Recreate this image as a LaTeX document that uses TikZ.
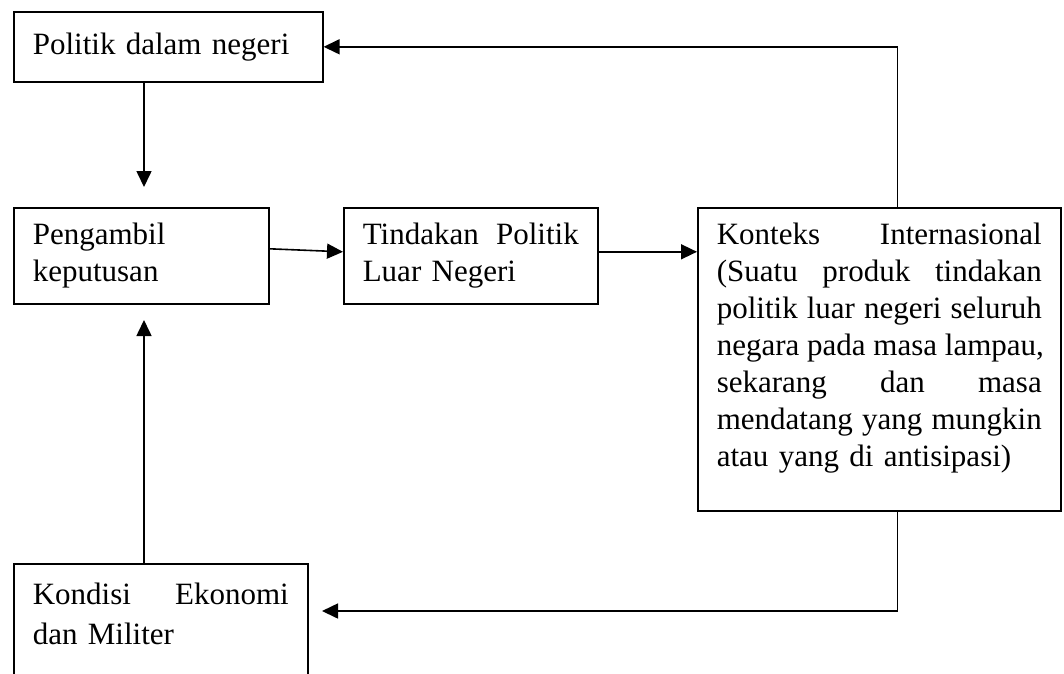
\documentclass[tikz,border=0pt]{standalone}
\usepackage{fontspec}
\setmainfont{Liberation Serif}
\usetikzlibrary{arrows.meta}
\newcommand{\jline}[2]{\leavevmode\hbox to #1{\spaceskip=0.25em plus 10em\relax #2}}

\begin{document}
\begin{tikzpicture}[
			x=1pt, y=-1pt,
			line width=1.6pt,
			>={Triangle[length=16pt, width=15pt]},
			main/.style = {draw, rectangle, anchor=north west, inner xsep=19pt, inner ysep=0pt, align=left, font=\fontsize{31}{37}\selectfont}
		]
		\useasboundingbox (0,0) rectangle (1064,673);
		\node[main, text width=271pt, minimum height=70pt] (1) at (13,11) {Politik dalam negeri};
		\node[main, text width=217pt, minimum height=96pt] (2) at (13,207) {Pengambil\\keputusan};
		\node[main, text width=216pt, minimum height=96pt] (3) at (343,207) {\jline{216pt}{Tindakan Politik}\\Luar Negeri};
		\node[main, text width=325pt, minimum height=303pt] (4) at (697,207) {\jline{325pt}{Konteks Internasional}\\
			\jline{325pt}{(Suatu produk tindakan}\\
			\jline{325pt}{politik luar negeri seluruh}\\
			\jline{325pt}{negara pada masa lampau,}\\
			\jline{325pt}{sekarang dan masa}\\
			\jline{325pt}{mendatang yang mungkin}\\
			atau yang di antisipasi)\rule[-29pt]{0pt}{1pt}};
		% the bottom box runs past the lower edge of the page
		\node[main, text width=256pt, minimum height=140pt, font=\fontsize{31}{40}\selectfont] (5) at (13,563) {\jline{256pt}{Kondisi Ekonomi}\\dan Militer\rule[-40pt]{0pt}{1pt}};
		\coordinate (a) at (144,187);
		\coordinate (b) at (322,611);
		\coordinate (c) at (144,320);
		\draw[->] (1.south -| a) -- (a);
		\draw[->] ([yshift=7pt]2.east) -- ([yshift=4pt]3.west);
		\draw[->] ([yshift=4pt]3.east) -- ([yshift=4pt]3.east -| 4.west);
		\draw[->] ([xshift=18pt]4.north) |- (1.east);
		\draw[->] ([xshift=18pt]4.south) |- (b);
		\draw[->] (5.north -| c) -- (c);
	\end{tikzpicture}
\end{document}
